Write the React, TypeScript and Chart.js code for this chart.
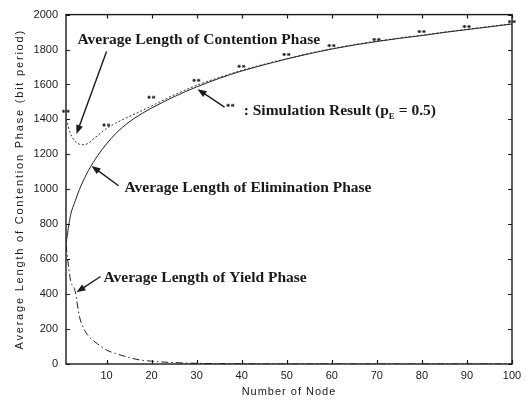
import React, { useEffect, useRef } from "react";
import { Chart, registerables } from "chart.js";

Chart.register(...registerables);

// ---- data ----
const nodeCounts = [1, 2, 3, 4, 5, 6, 7, 8, 10, 12, 15, 17, 20, 25, 30, 35, 40, 45, 50, 55, 60, 65, 70, 75, 80, 85, 90, 95, 100];
const contentionLength = [1402, 1318, 1275, 1258, 1255, 1265, 1287, 1307, 1348, 1378, 1416, 1440, 1477, 1540, 1595, 1640, 1681, 1716, 1748, 1778, 1805, 1828, 1848, 1866, 1882, 1900, 1916, 1932, 1948];
const eliminationLength = [690, 850, 930, 1000, 1058, 1108, 1152, 1192, 1260, 1318, 1385, 1420, 1465, 1530, 1586, 1635, 1677, 1713, 1746, 1776, 1803, 1826, 1846, 1864, 1880, 1898, 1914, 1930, 1946];
const yieldLength = [680, 480, 420, 270, 200, 160, 135, 115, 80, 60, 37, 25, 16, 8, 4, 2, 1, 0, 0, 0, 0, 0, 0, 0, 0, 0, 0, 0, 0];

const simNodes = [1, 10, 20, 30, 40, 50, 60, 70, 80, 90, 100];
const simResult = [1447, 1368, 1527, 1624, 1704, 1772, 1823, 1858, 1903, 1932, 1960];

const xTickValues = [10, 20, 30, 40, 50, 60, 70, 80, 90, 100];
const yTickValues = [0, 200, 400, 600, 800, 1000, 1200, 1400, 1600, 1800, 2000];

const xAxisTitle = "Number of Node";
const yAxisTitle = "Average Length of Contention Phase (bit period)";

// annotation labels in data units
const annotations = [
  { text: "Average Length of Contention Phase", x: 3.56, y: 1852, from: [10.0, 1789], to: [3.33, 1316] },
  { text: "Average Length of Elimination Phase", x: 14.0, y: 1009, from: [12.67, 1020], to: [6.67, 1134] },
  { text: "Average Length of Yield Phase", x: 9.33, y: 490, from: [8.67, 501], to: [3.33, 410] },
];
const simLabel = { pre: ": Simulation Result (p", sub: "E", post: " = 0.5)", x: 40.44, y: 1447, markX: 37.56, markY: 1481, from: [36.2, 1470], to: [30.2, 1573] };

const INK = "#1a1a1a";

function makeStarMarker(): HTMLCanvasElement {
  const c = document.createElement("canvas");
  c.width = 9;
  c.height = 5;
  const g = c.getContext("2d")!;
  g.strokeStyle = INK;
  g.lineWidth = 1;
  [2, 6.5].forEach((cx) => {
    g.beginPath();
    g.moveTo(cx - 1.5, 2.5); g.lineTo(cx + 1.5, 2.5);
    g.moveTo(cx - 1, 1); g.lineTo(cx + 1, 4);
    g.moveTo(cx + 1, 1); g.lineTo(cx - 1, 4);
    g.stroke();
  });
  return c;
}

function drawArrow(ctx: CanvasRenderingContext2D, x1: number, y1: number, x2: number, y2: number) {
  const ang = Math.atan2(y2 - y1, x2 - x1);
  const len = 9, hw = 3.5;
  ctx.beginPath();
  ctx.moveTo(x1, y1);
  ctx.lineTo(x2 - Math.cos(ang) * len * 0.8, y2 - Math.sin(ang) * len * 0.8);
  ctx.stroke();
  ctx.beginPath();
  ctx.moveTo(x2, y2);
  ctx.lineTo(x2 - Math.cos(ang) * len - Math.sin(ang) * hw, y2 - Math.sin(ang) * len + Math.cos(ang) * hw);
  ctx.lineTo(x2 - Math.cos(ang) * len + Math.sin(ang) * hw, y2 - Math.sin(ang) * len - Math.cos(ang) * hw);
  ctx.closePath();
  ctx.fill();
}

export default function App() {
  const ref = useRef<HTMLCanvasElement | null>(null);

  useEffect(() => {
    if (!ref.current) return;
    const marker = makeStarMarker();

    const decor = {
      id: "decor",
      afterDraw(chart: any) {
        const { ctx, chartArea: a, scales } = chart;
        const xs = scales.x, ys = scales.y;
        ctx.save();
        ctx.strokeStyle = INK;
        ctx.fillStyle = INK;
        // frame
        ctx.lineWidth = 1.4;
        ctx.strokeRect(a.left, a.top, a.right - a.left, a.bottom - a.top);
        // inward ticks on all four sides
        ctx.lineWidth = 1.2;
        ctx.beginPath();
        xTickValues.forEach((v) => {
          const px = Math.round(xs.getPixelForValue(v)) + 0.5;
          ctx.moveTo(px, a.bottom); ctx.lineTo(px, a.bottom - 4);
          ctx.moveTo(px, a.top); ctx.lineTo(px, a.top + 4);
        });
        yTickValues.forEach((v) => {
          const py = Math.round(ys.getPixelForValue(v)) + 0.5;
          ctx.moveTo(a.left, py); ctx.lineTo(a.left + 4, py);
          ctx.moveTo(a.right, py); ctx.lineTo(a.right - 4, py);
        });
        ctx.stroke();

        // axis titles
        ctx.font = '11px "Liberation Sans"';
        ctx.textAlign = "center";
        ctx.textBaseline = "middle";
        (ctx as any).letterSpacing = "1px";
        ctx.fillText(xAxisTitle, (a.left + a.right) / 2, 392);
        ctx.save();
        ctx.translate(20, (a.top + a.bottom) / 2);
        ctx.rotate(-Math.PI / 2);
        (ctx as any).letterSpacing = "1.8px";
        ctx.fillText(yAxisTitle, 0, 0);
        ctx.restore();
        (ctx as any).letterSpacing = "0px";

        // annotations
        ctx.font = 'bold 15.5px "Liberation Serif"';
        ctx.textAlign = "left";
        ctx.textBaseline = "middle";
        ctx.lineWidth = 1.4;
        annotations.forEach((an) => {
          ctx.fillText(an.text, xs.getPixelForValue(an.x), ys.getPixelForValue(an.y));
          drawArrow(ctx, xs.getPixelForValue(an.from[0]), ys.getPixelForValue(an.from[1]),
            xs.getPixelForValue(an.to[0]), ys.getPixelForValue(an.to[1]));
        });
        // simulation label
        let tx = xs.getPixelForValue(simLabel.x);
        const ty = ys.getPixelForValue(simLabel.y);
        ctx.fillText(simLabel.pre, tx, ty);
        tx += ctx.measureText(simLabel.pre).width;
        ctx.font = 'bold 9px "Liberation Serif"';
        ctx.fillText(simLabel.sub, tx, ty + 5);
        tx += ctx.measureText(simLabel.sub).width;
        ctx.font = 'bold 15.5px "Liberation Serif"';
        ctx.fillText(simLabel.post, tx, ty);
        ctx.drawImage(marker, xs.getPixelForValue(simLabel.markX) - marker.width / 2, ys.getPixelForValue(simLabel.markY) - marker.height / 2);
        drawArrow(ctx, xs.getPixelForValue(simLabel.from[0]), ys.getPixelForValue(simLabel.from[1]),
          xs.getPixelForValue(simLabel.to[0]), ys.getPixelForValue(simLabel.to[1]));
        ctx.restore();
      },
    };

    const toPts = (xsArr: number[], ysArr: number[]) => xsArr.map((x, i) => ({ x, y: ysArr[i] }));

    const chart = new Chart(ref.current, {
      type: "line",
      data: {
        datasets: [
          {
            label: "Contention",
            data: toPts(nodeCounts, contentionLength),
            borderColor: "#333",
            borderWidth: 1,
            borderDash: [2, 2],
            pointRadius: 0,
            cubicInterpolationMode: "monotone",
          },
          {
            label: "Elimination",
            data: toPts(nodeCounts, eliminationLength),
            borderColor: "#222",
            borderWidth: 1,
            pointRadius: 0,
            cubicInterpolationMode: "monotone",
          },
          {
            label: "Yield",
            data: toPts(nodeCounts, yieldLength),
            borderColor: "#222",
            borderWidth: 1,
            borderDash: [7, 3, 1.5, 3],
            pointRadius: 0,
            cubicInterpolationMode: "monotone",
          },
          {
            label: "Simulation",
            data: toPts(simNodes, simResult),
            showLine: false,
            pointStyle: marker as any,
            pointRadius: 4,
            clip: false,
          },
        ],
      } as any,
      options: {
        responsive: false,
        animation: false,
        devicePixelRatio: 1,
        layout: { padding: { top: 13, right: 15, left: 0, bottom: 0 } },
        plugins: { legend: { display: false }, tooltip: { enabled: false } },
        scales: {
          x: {
            type: "linear",
            min: 1,
            max: 100,
            afterBuildTicks: (s: any) => { s.ticks = xTickValues.map((v) => ({ value: v })); },
            afterFit: (s: any) => { s.height = 37; },
            grid: { display: false, drawTicks: false },
            border: { display: false },
            ticks: { padding: 5, autoSkip: false, maxRotation: 0, color: INK, font: { family: "Liberation Sans", size: 11 }, callback: (v: any) => String(v) },
          },
          y: {
            type: "linear",
            min: 0,
            max: 2000,
            afterBuildTicks: (s: any) => { s.ticks = yTickValues.map((v) => ({ value: v })); },
            afterFit: (s: any) => { s.width = 66; },
            grid: { display: false, drawTicks: false },
            border: { display: false },
            ticks: { padding: 8, color: INK, font: { family: "Liberation Sans", size: 11 }, callback: (v: any) => String(v) },
          },
        },
      } as any,
      plugins: [decor],
    });
    return () => chart.destroy();
  }, []);

  return (
    <div style={{ position: "fixed", left: 0, top: 0, width: 527, height: 401, background: "#fff" }}>
      <canvas ref={ref} width={527} height={401} />
    </div>
  );
}
